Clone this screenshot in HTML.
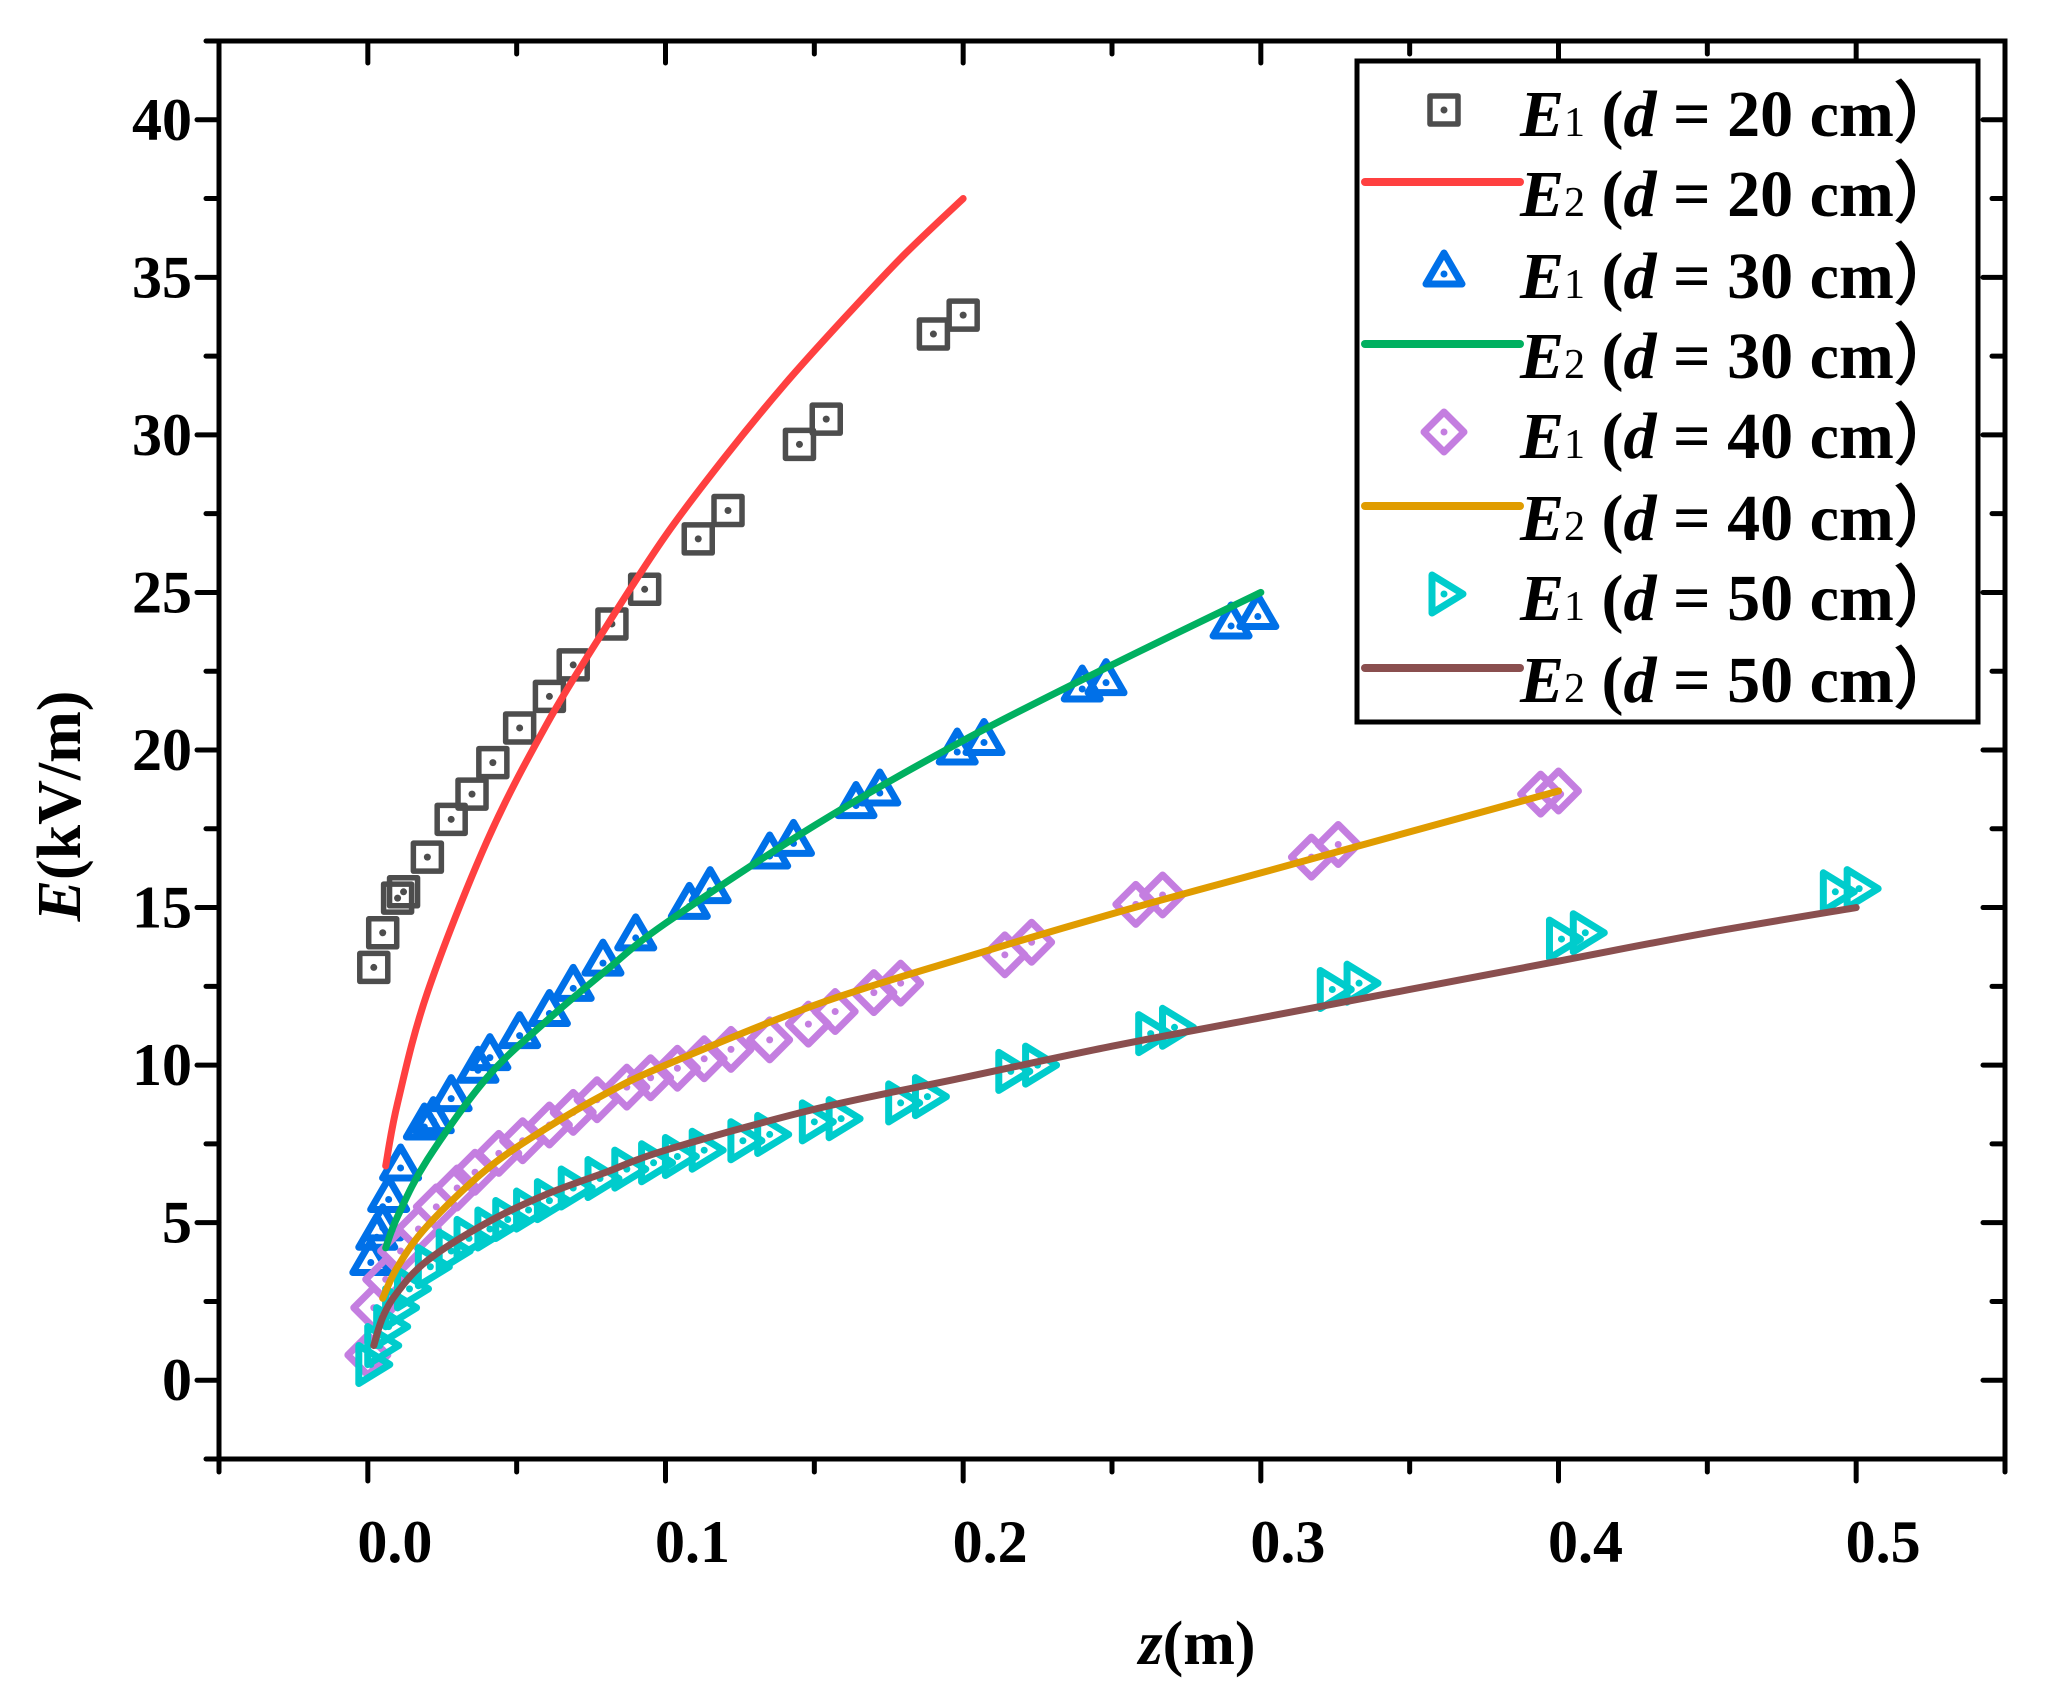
<!DOCTYPE html>
<html><head><meta charset="utf-8"><style>
html,body{margin:0;padding:0;background:#fff;}
svg{display:block;}
text{font-family:"Liberation Serif",serif;}
</style></head><body>
<svg id="chart" width="2050" height="1688" viewBox="0 0 2050 1688" xmlns="http://www.w3.org/2000/svg">
<g id="marks"></g>
<g id="axes"></g>
<g id="legend"></g>
</svg>
<script>
const xTicks = [0.0, 0.1, 0.2, 0.3, 0.4, 0.5];
const xTickLabels = ["0.0", "0.1", "0.2", "0.3", "0.4", "0.5"];
const yTicks = [0, 5, 10, 15, 20, 25, 30, 35, 40];
const yTickLabels = ["0", "5", "10", "15", "20", "25", "30", "35", "40"];

const e1d20z = [0.002,0.005,0.010,0.012,0.020,0.028,0.035,0.042,0.051,0.061,0.069,0.082,0.093,0.111,0.121,0.145,0.154,0.190,0.200];
const e1d20v = [13.1,14.2,15.3,15.5,16.6,17.8,18.6,19.6,20.7,21.7,22.7,24.0,25.1,26.7,27.6,29.7,30.5,33.2,33.8];
const e2d20z = [0.006,0.01,0.02,0.04,0.06,0.08,0.1,0.12,0.14,0.16,0.18,0.2];
const e2d20v = [6.8,8.8,12.3,17.1,20.8,23.9,26.8,29.3,31.6,33.7,35.7,37.5];
const e1d30z = [0.001,0.003,0.005,0.007,0.011,0.019,0.022,0.028,0.037,0.041,0.051,0.061,0.069,0.079,0.090,0.108,0.115,0.135,0.143,0.164,0.172,0.198,0.207,0.240,0.248,0.290,0.299];
const e1d30v = [3.8,4.6,4.9,5.8,6.8,8.1,8.3,9.0,9.9,10.3,11.0,11.7,12.5,13.3,14.1,15.1,15.6,16.7,17.1,18.3,18.7,20.0,20.3,22.0,22.2,24.0,24.3];
const e2d30z = [0.006,0.01,0.02,0.04,0.06,0.08,0.1,0.15,0.2,0.25,0.3];
const e2d30v = [4.2,5.2,7.0,9.6,11.4,13.0,14.5,17.6,20.3,22.7,25.0];
const e1d40z = [0.000,0.002,0.006,0.011,0.017,0.023,0.030,0.036,0.044,0.052,0.061,0.069,0.077,0.087,0.095,0.104,0.113,0.122,0.135,0.148,0.157,0.170,0.179,0.214,0.223,0.258,0.267,0.317,0.326,0.394,0.400];
const e1d40v = [0.8,2.3,3.2,4.1,4.8,5.5,6.1,6.6,7.2,7.6,8.1,8.5,8.9,9.3,9.6,9.9,10.2,10.5,10.8,11.3,11.7,12.3,12.6,13.5,13.9,15.1,15.4,16.6,17.0,18.6,18.7];
const e2d40z = [0.005,0.01,0.02,0.04,0.06,0.08,0.1,0.15,0.2,0.25,0.3,0.35,0.4];
const e2d40v = [2.6,3.6,4.9,6.7,8.0,9.1,10.0,11.9,13.4,14.8,16.1,17.4,18.7];
const e1d50z = [0.001,0.004,0.007,0.010,0.014,0.021,0.028,0.034,0.041,0.047,0.054,0.061,0.069,0.078,0.087,0.096,0.104,0.113,0.126,0.135,0.150,0.159,0.179,0.188,0.216,0.225,0.263,0.271,0.324,0.333,0.401,0.409,0.493,0.501];
const e1d50v = [0.5,1.1,1.7,2.3,2.9,3.6,4.1,4.5,4.8,5.1,5.4,5.7,6.1,6.4,6.7,6.9,7.1,7.3,7.6,7.8,8.2,8.3,8.8,9.0,9.8,10.0,11.0,11.2,12.4,12.6,14.0,14.2,15.5,15.6];
const e2d50z = [0.002,0.005,0.01,0.02,0.04,0.06,0.08,0.1,0.15,0.2,0.25,0.3,0.35,0.4,0.45,0.5];
const e2d50v = [1.1,2.0,2.8,3.8,5.0,5.9,6.6,7.3,8.6,9.6,10.6,11.5,12.4,13.3,14.2,15.0];

const NS = "http://www.w3.org/2000/svg";
const L = 219, R = 2005, T = 41, B = 1459;
const xMin = -0.05, xMax = 0.55, yMin = -2.5, yMax = 42.5;
function sx(v){ return L + (v - xMin) / (xMax - xMin) * (R - L); }
function sy(v){ return B - (v - yMin) / (yMax - yMin) * (B - T); }
function mk(tag, attrs, parent){
  const e = document.createElementNS(NS, tag);
  for (const k in attrs) e.setAttribute(k, attrs[k]);
  parent.appendChild(e);
  return e;
}
const marks = document.getElementById('marks');
const axes = document.getElementById('axes');
const legend = document.getElementById('legend');

function markerPath(type, cx, cy){
  if (type === 'square') { const h = 14; return `M${cx-h},${cy-h}H${cx+h}V${cy+h}H${cx-h}Z`; }
  if (type === 'tri') { return `M${cx},${cy-19}L${cx+18},${cy+12}L${cx-18},${cy+12}Z`; }
  if (type === 'diamond') { return `M${cx},${cy-20}L${cx+20},${cy}L${cx},${cy+20}L${cx-20},${cy}Z`; }
  return `M${cx-12},${cy-19}L${cx+19},${cy}L${cx-12},${cy+19}Z`;
}
function drawMarker(parent, type, color, cx, cy){
  const g = mk('g', {}, parent);
  
  
  mk('path', {d: markerPath(type, cx, cy), fill: 'none', stroke: color, 'stroke-width': type === 'square' ? 5.5 : 7, 'stroke-linejoin': 'round'}, g);
  mk('circle', {cx: cx, cy: type === 'tri' ? cy + 2 : cy, r: 3.5, fill: color}, g);
}
function smoothPath(xs, ys){
  const p = xs.map((x, i) => [sx(x), sy(ys[i])]);
  let d = `M${p[0][0]},${p[0][1]}`;
  for (let i = 0; i < p.length - 1; i++) {
    const p0 = p[Math.max(0, i - 1)], p1 = p[i], p2 = p[i + 1], p3 = p[Math.min(p.length - 1, i + 2)];
    const c1 = [p1[0] + (p2[0] - p0[0]) / 6, p1[1] + (p2[1] - p0[1]) / 6];
    const c2 = [p2[0] - (p3[0] - p1[0]) / 6, p2[1] - (p3[1] - p1[1]) / 6];
    d += `C${c1[0]},${c1[1]} ${c2[0]},${c2[1]} ${p2[0]},${p2[1]}`;
  }
  return d;
}
function drawScatter(name, xs, ys, type, color){
  const g = mk('g', {}, marks);
  
  
  xs.forEach((x, i) => drawMarker(g, type, color, sx(x), sy(ys[i])));
}
function drawLine(name, xs, ys, color){
  const el = mk('path', {d: smoothPath(xs, ys), fill: 'none', stroke: color, 'stroke-width': 7, 'stroke-linecap': 'round'}, marks);
  
  
}
const C = {sq:'#4d4d4d', red:'#ff4040', blue:'#0070e8', green:'#00b060', purple:'#c47ee0', orange:'#e09c00', cyan:'#00cccc', brown:'#8a4f4f'};
drawScatter('series-e1-d20', e1d20z, e1d20v, 'square', C.sq);
drawScatter('series-e1-d30', e1d30z, e1d30v, 'tri', C.blue);
drawScatter('series-e1-d40', e1d40z, e1d40v, 'diamond', C.purple);
drawScatter('series-e1-d50', e1d50z, e1d50v, 'rtri', C.cyan);
drawLine('series-e2-d20', e2d20z, e2d20v, C.red);
drawLine('series-e2-d30', e2d30z, e2d30v, C.green);
drawLine('series-e2-d40', e2d40z, e2d40v, C.orange);
drawLine('series-e2-d50', e2d50z, e2d50v, C.brown);

const frame = mk('rect', {x: L, y: T, width: R - L, height: B - T, fill: 'none', stroke: '#000', 'stroke-width': 5}, axes);


for (let v = -0.05; v <= 0.551; v += 0.05) {
  const x = sx(v), major = Math.abs(Math.round(v * 10) - v * 10) < 1e-6;
  const len = major ? 22 : 13;
  mk('line', {x1: x, y1: B, x2: x, y2: B + len, stroke: '#000', 'stroke-width': 5, 'stroke-linecap': 'round'}, axes);
  mk('line', {x1: x, y1: T, x2: x, y2: T + len, stroke: '#000', 'stroke-width': 5, 'stroke-linecap': 'round'}, axes);
}
for (let v = -2.5; v <= 42.51; v += 2.5) {
  const y = sy(v), major = Math.abs(v % 5) < 1e-6;
  const len = major ? 22 : 13;
  mk('line', {x1: L, y1: y, x2: L - len, y2: y, stroke: '#000', 'stroke-width': 5, 'stroke-linecap': 'round'}, axes);
  mk('line', {x1: R, y1: y, x2: R - len, y2: y, stroke: '#000', 'stroke-width': 5, 'stroke-linecap': 'round'}, axes);
}
xTicks.forEach((v, i) => {
  const t = mk('text', {x: sx(v) + 27, y: 1562, 'font-size': 60, 'font-weight': 'bold', 'text-anchor': 'middle', fill: '#000'}, axes);
  t.textContent = xTickLabels[i];
  
  
});
yTicks.forEach((v, i) => {
  const t = mk('text', {x: 192, y: sy(v) + 20, 'font-size': 60, 'font-weight': 'bold', 'text-anchor': 'end', fill: '#000'}, axes);
  t.textContent = yTickLabels[i];
  
  
});
const xt = mk('text', {x: 1197, y: 1664, 'font-size': 62, 'font-weight': 'bold', 'text-anchor': 'middle'}, axes);
xt.innerHTML = '<tspan font-style="italic">z</tspan>(m)';


const yt = mk('text', {x: 0, y: 0, 'font-size': 62, 'font-weight': 'bold', 'text-anchor': 'middle', transform: 'translate(80,806) rotate(-90)'}, axes);
yt.innerHTML = '<tspan font-style="italic">E</tspan>(kV/m)';



const lb = mk('rect', {x: 1357, y: 61, width: 621, height: 661, fill: '#fff', stroke: '#000', 'stroke-width': 5}, legend);


const entries = [
  ['marker','square',C.sq,'1','20'],['line',null,C.red,'2','20'],
  ['marker','tri',C.blue,'1','30'],['line',null,C.green,'2','30'],
  ['marker','diamond',C.purple,'1','40'],['line',null,C.orange,'2','40'],
  ['marker','rtri',C.cyan,'1','50'],['line',null,C.brown,'2','50']
];
const rowY = [114, 194, 276, 356, 436, 518, 598, 680];
entries.forEach((e, i) => {
  const g = mk('g', {}, legend);
  
  
  const y = rowY[i];
  if (e[0] === 'marker') drawMarker(g, e[1], e[2], 1444, y - 4);
  else mk('line', {x1: 1365, y1: y - 12, x2: 1520, y2: y - 12, stroke: e[2], 'stroke-width': 8, 'stroke-linecap': 'round'}, g);
  const t = mk('text', {x: 1520, y: y + 22, 'font-size': 66, 'font-weight': 'bold'}, g);
  t.innerHTML = '<tspan font-style="italic">E</tspan><tspan font-size="42" font-weight="normal">' + e[3] + '</tspan> (<tspan font-style="italic">d</tspan> = ' + e[4] + ' cm\uFF09';
});
</script>
</body></html>
